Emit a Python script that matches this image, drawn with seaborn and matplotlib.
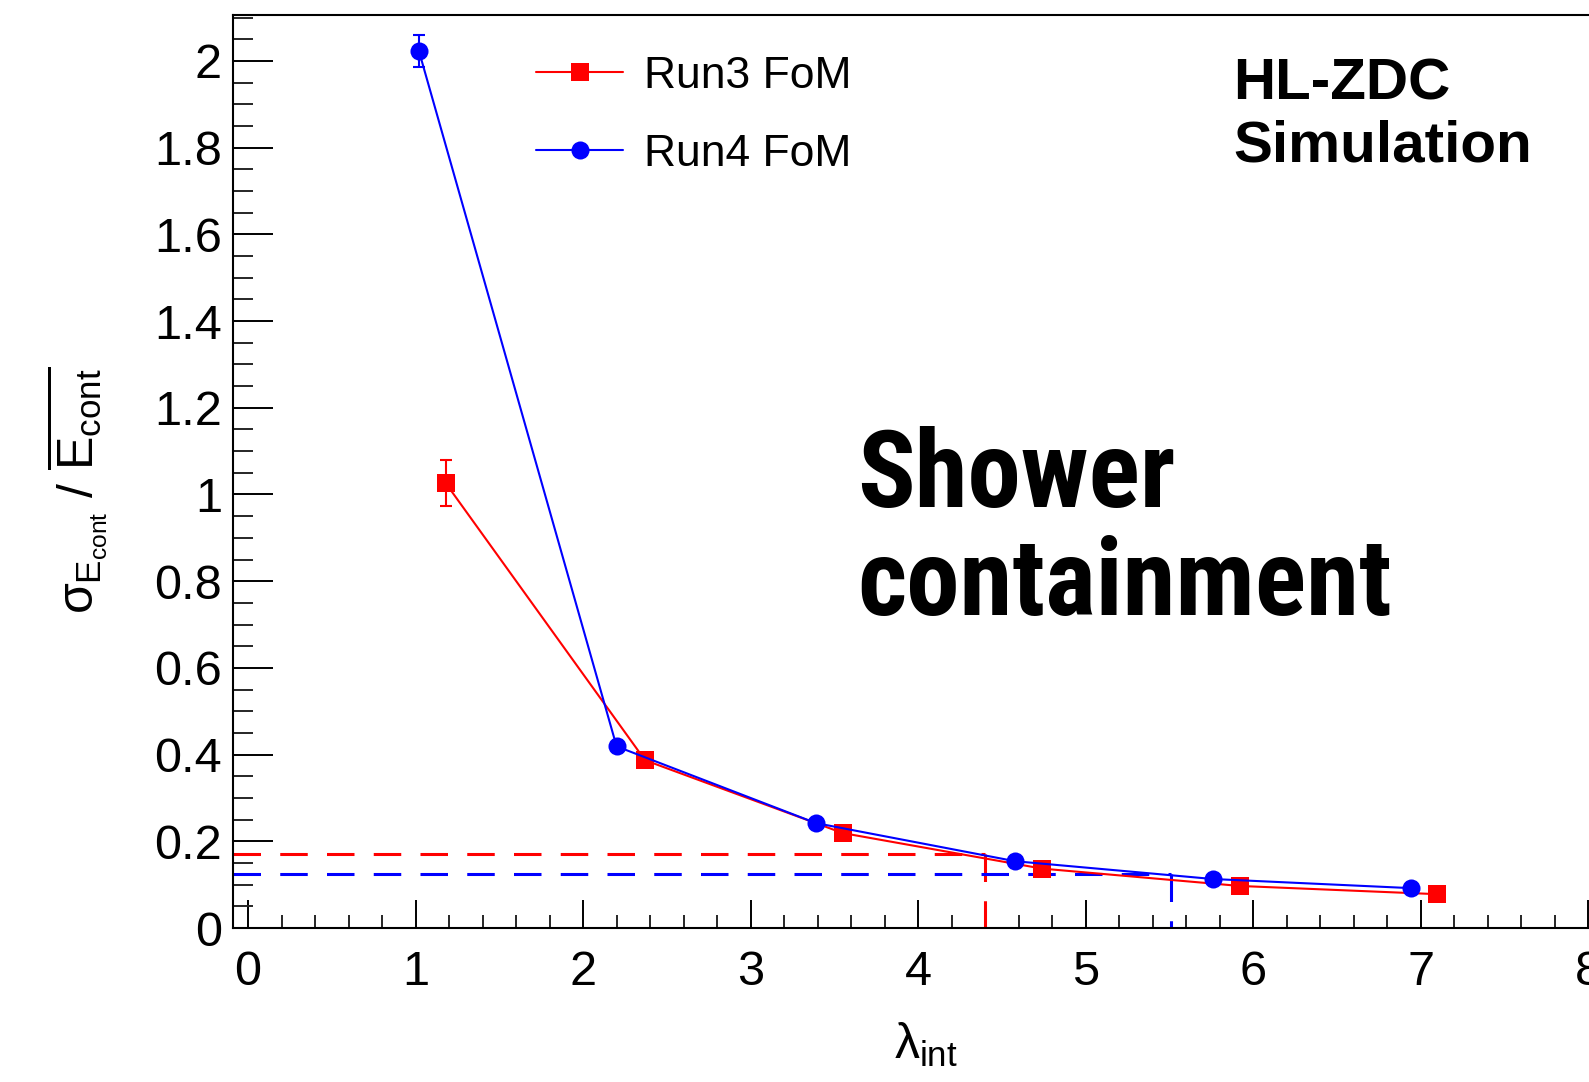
import matplotlib
matplotlib.use("Agg")
import matplotlib.pyplot as plt
from matplotlib.lines import Line2D
from matplotlib.ticker import MultipleLocator, FuncFormatter
import numpy as np
import pandas as pd
import seaborn as sns

# Interaction lengths and figure-of-merit values for the two configurations
lambda_run3 = [1.18, 2.37, 3.55, 4.74, 5.92, 7.10]
fom_run3 = [1.026, 0.387, 0.219, 0.137, 0.097, 0.078]
err_run3 = [0.053, 0.0, 0.0, 0.0, 0.0, 0.0]

lambda_run4 = [1.02, 2.20, 3.39, 4.58, 5.76, 6.94]
fom_run4 = [2.023, 0.419, 0.242, 0.154, 0.113, 0.092]
err_run4 = [0.038, 0.0, 0.0, 0.0, 0.0, 0.0]

series_labels = ["Run3 FoM", "Run4 FoM"]

# Reference levels and the corresponding interaction lengths
ref_level_run3 = 0.171
ref_lambda_run3 = 4.40
ref_level_run4 = 0.125
ref_lambda_run4 = 5.51

x_ticks = [0, 1, 2, 3, 4, 5, 6, 7, 8]
y_ticks = [0, 0.2, 0.4, 0.6, 0.8, 1.0, 1.2, 1.4, 1.6, 1.8, 2.0]

RED = "#ff0000"
BLUE = "#0000ff"

sns.set_theme(style="ticks")
plt.rcParams["font.family"] = ["Liberation Sans", "DejaVu Sans"]
plt.rcParams["mathtext.fontset"] = "custom"
plt.rcParams["mathtext.rm"] = "Liberation Sans"
plt.rcParams["mathtext.it"] = "Liberation Sans"
plt.rcParams["mathtext.bf"] = "Liberation Sans:bold"
plt.rcParams["text.color"] = "black"
plt.rcParams["axes.labelcolor"] = "black"
plt.rcParams["legend.labelcolor"] = "black"

W, H = 1589, 1082
fig = plt.figure(figsize=(W / 100, H / 100), dpi=100)
fig.patch.set_facecolor("white")

ax_left, ax_bottom, ax_top = 233, 928, 15
xmin, xmax = -0.09, 8.1
ymin, ymax = 0.0, 2.106
ax_width = (xmax - xmin) * 167.5
ax = fig.add_axes([ax_left / W, (H - ax_bottom) / H, ax_width / W, (ax_bottom - ax_top) / H])
ax.set_facecolor("white")
ax.set_xlim(xmin, xmax)
ax.set_ylim(ymin, ymax)

# Dashed guide lines marking where each curve reaches its reference level
dash = dict(linestyle=(0, (9, 6.3)), linewidth=2.2)
ax.plot([xmin, ref_lambda_run3], [ref_level_run3, ref_level_run3], color=RED, zorder=1, **dash)
ax.plot([ref_lambda_run3, ref_lambda_run3], [ref_level_run3, 0], color=RED, zorder=1, **dash)
ax.plot([xmin, ref_lambda_run4], [ref_level_run4, ref_level_run4], color=BLUE, zorder=1, **dash)
ax.plot([ref_lambda_run4, ref_lambda_run4], [ref_level_run4, 0], color=BLUE, zorder=1, **dash)

df3 = pd.DataFrame({"lam": lambda_run3, "fom": fom_run3})
df4 = pd.DataFrame({"lam": lambda_run4, "fom": fom_run4})

sns.lineplot(data=df3, x="lam", y="fom", ax=ax, color=RED, marker="s", markersize=13,
             markeredgewidth=0, linewidth=1.5, sort=False, zorder=3, legend=False)
sns.lineplot(data=df4, x="lam", y="fom", ax=ax, color=BLUE, marker="o", markersize=13,
             markeredgewidth=0, linewidth=1.5, sort=False, zorder=4, legend=False)

for xs, ys, es, col, z in [(lambda_run3, fom_run3, err_run3, RED, 3),
                           (lambda_run4, fom_run4, err_run4, BLUE, 4)]:
    xs, ys, es = np.asarray(xs), np.asarray(ys), np.asarray(es)
    m = es > 0
    ax.errorbar(xs[m], ys[m], yerr=es[m], fmt="none", ecolor=col, elinewidth=1.5,
                capsize=4, capthick=1.5, zorder=z)

# Axis styling: inward ticks on the left and bottom edges
for side in ["left", "bottom", "top", "right"]:
    ax.spines[side].set_visible(True)
    ax.spines[side].set_linewidth(1.5)
    ax.spines[side].set_color("black")

ax.xaxis.set_major_locator(MultipleLocator(1))
ax.xaxis.set_minor_locator(MultipleLocator(0.2))
ax.yaxis.set_major_locator(MultipleLocator(0.2))
ax.yaxis.set_minor_locator(MultipleLocator(0.05))
ax.set_xticks(x_ticks)
ax.set_yticks(y_ticks)
fmt = FuncFormatter(lambda v, p: "%g" % round(v, 3))
ax.xaxis.set_major_formatter(fmt)
ax.yaxis.set_major_formatter(fmt)

ax.tick_params(axis="x", which="major", direction="in", length=20, width=1.4,
               pad=16, labelsize=35, colors="black", top=False)
ax.tick_params(axis="x", which="minor", direction="in", length=9.4, width=1.4,
               top=False, bottom=True)
ax.tick_params(axis="y", which="major", direction="in", length=28.8, width=1.4,
               pad=8, labelsize=35, colors="black", right=False)
ax.tick_params(axis="y", which="minor", direction="in", length=14.4, width=1.4,
               right=False, left=True)

ax.set_xlabel(r"$\lambda_{int}$", fontsize=36, color="black")
ax.xaxis.set_label_coords((926 - ax_left) / ax_width, -(1021 - ax_bottom) / (ax_bottom - ax_top))
ax.xaxis.label.set_va("top")

ax.set_ylabel(r"$\sigma_{E_{cont}}$ / $\overline{E_{cont}}$", fontsize=36, color="black")
ax.yaxis.set_label_coords(-(ax_left - 110) / ax_width, (ax_bottom - 490) / (ax_bottom - ax_top))

# Legend
handles = [
    Line2D([], [], color=RED, marker="s", markersize=13, markeredgewidth=0, linewidth=1.5),
    Line2D([], [], color=BLUE, marker="o", markersize=13, markeredgewidth=0, linewidth=1.5),
]
leg = ax.legend(handles, series_labels, loc="upper left",
                bbox_to_anchor=(536 / W, 1 - 56 / H), bbox_transform=fig.transFigure,
                frameon=False, fontsize=32, handlelength=1.96, handletextpad=0.47,
                borderpad=0, borderaxespad=0, labelspacing=0.83, numpoints=1)
for t in leg.get_texts():
    t.set_color("black")

# Annotations
fig.text(1233 / W, 1 - 99 / H, "HL-ZDC", fontsize=42, fontweight="bold",
         va="baseline", ha="left", color="black")
fig.text(1233 / W, 1 - 162 / H, "Simulation", fontsize=42, fontweight="bold",
         va="baseline", ha="left", color="black")

cond = ["Roboto Condensed", "Roboto", "DejaVu Sans"]
fig.text(857 / W, 1 - 507 / H, "Shower", fontsize=77, fontweight="bold",
         family=cond, va="baseline", ha="left", color="black")
fig.text(857 / W, 1 - 615 / H, "containment", fontsize=77, fontweight="bold",
         family=cond, va="baseline", ha="left", color="black")

fig.savefig("out.png", dpi=100, facecolor="white")
